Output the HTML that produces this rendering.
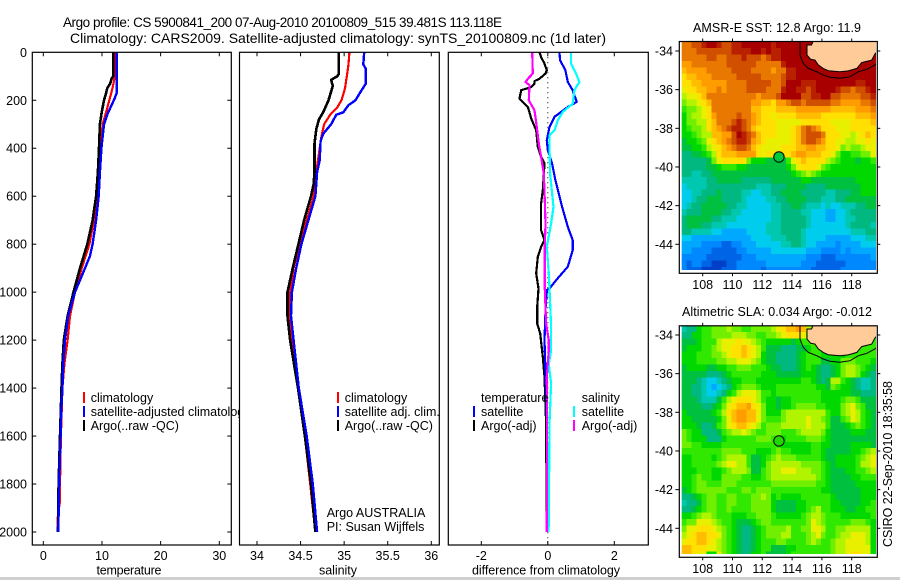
<!DOCTYPE html>
<html>
<head>
<meta charset="utf-8">
<title>Argo profile</title>
<style>
html,body{margin:0;padding:0;background:#fff;width:900px;height:580px;overflow:hidden}
svg{display:block;font-family:"Liberation Sans",sans-serif;font-size:12.5px;fill:#000}
</style>
</head>
<body>
<svg id="chart" xmlns="http://www.w3.org/2000/svg" width="900" height="580" viewBox="0 0 900 580">
<rect x="0" y="577" width="900" height="3" fill="#cfcfcf"/>
<text x="63" y="27" font-size="13.5" textLength="439" lengthAdjust="spacing">Argo profile: CS 5900841_200 07-Aug-2010 20100809_515 39.481S 113.118E</text>
<text x="70" y="43" font-size="14" textLength="536" lengthAdjust="spacing">Climatology: CARS2009. Satellite-adjusted climatology: synTS_20100809.nc (1d later)</text>
<g id="layer"></g>
<text x="693" y="32" textLength="168" lengthAdjust="spacing">AMSR-E SST: 12.8 Argo: 11.9</text>
<text x="682" y="316" textLength="190" lengthAdjust="spacing">Altimetric SLA: 0.034 Argo: -0.012</text>
<text transform="translate(892,547) rotate(-90)" textLength="166" lengthAdjust="spacing">CSIRO 22-Sep-2010 18:35:58</text>
</svg>
<script>
// ---- tick labels ----
const depthTicks = [0,200,400,600,800,1000,1200,1400,1600,1800,2000];
const tempTicks = [0,10,20,30];
const salTicks = [34,34.5,35,35.5,36];
const diffTicks = [-2,0,2];
const lonTicks = [108,110,112,114,116,118];
const latTicks = [-34,-36,-38,-40,-42,-44];

// ---- temperature panel ----
const tempBlackDepth = [0,100,110,130,150,170,200,250,300,400,500,600,700,800,900,1000,1100,1200,1300,1400,1600,1800,2000];
const tempBlack = [11.9,11.9,11.65,11.4,10.9,10.7,10.35,9.95,9.65,9.5,9.3,9.0,8.4,7.5,6.25,5.15,4.15,3.5,3.25,3.1,2.85,2.6,2.5];
const tempRedDepth = [0,100,150,200,250,300,400,500,600,700,800,900,1000,1100,1200,1300,1400,1600,1800,1870,1950,2000];
const tempRed = [12.2,12.2,11.8,11.25,10.7,10.1,9.8,9.5,9.2,8.65,7.85,6.55,5.4,4.55,4.15,3.6,3.25,3.0,2.85,2.85,2.4,2.4];
const tempBlueDepth = [0,100,170,190,220,260,300,400,500,600,700,800,850,900,950,1000,1100,1200,1300,1400,1500,1600,1800,2000];
const tempBlue = [12.5,12.5,12.5,12.2,11.65,10.9,10.35,9.9,9.65,9.45,9.0,8.4,7.95,7.1,6.25,5.4,4.25,3.7,3.4,3.25,3.05,2.95,2.7,2.55];

// ---- salinity panel ----
const salBlackDepth = [0,50,90,100,115,140,200,250,280,320,380,420,500,550,600,700,800,900,1000,1100,1200,1400,1600,1800,2000];
const salBlack = [34.94,34.94,34.94,34.92,34.85,34.87,34.82,34.76,34.71,34.68,34.66,34.66,34.66,34.65,34.62,34.54,34.475,34.41,34.35,34.35,34.38,34.47,34.55,34.62,34.67];
const salRedDepth = [0,50,100,150,200,230,260,300,350,400,500,600,700,800,900,1000,1100,1200,1400,1600,1800,2000];
const salRed = [35.06,35.05,35.03,35.01,34.97,34.92,34.84,34.77,34.74,34.72,34.68,34.65,34.57,34.49,34.42,34.38,34.37,34.4,34.47,34.55,34.61,34.67];
const salBlueDepth = [0,50,70,130,170,200,220,250,260,300,340,370,450,500,600,700,800,900,1000,1100,1200,1400,1600,1800,2000];
const salBlue = [35.23,35.22,35.25,35.25,35.18,35.13,35.05,34.99,34.91,34.85,34.76,34.73,34.72,34.69,34.67,34.59,34.51,34.45,34.4,34.39,34.42,34.48,34.57,34.64,34.69];

// ---- difference panel ----
const diffBlackDepth = [0,20,47,75,89,110,120,130,145,158,193,228,276,325,394,436,464,575,630,742,783,811,853,922,985,1061,1131,1172,1269,1353,1547,2000];
const diffBlack = [-0.25,-0.2,-0.1,-0.03,-0.07,-0.25,-0.4,-0.4,-0.5,-0.8,-0.85,-0.6,-0.5,-0.35,-0.3,-0.2,-0.1,-0.15,-0.2,-0.2,-0.1,-0.2,-0.3,-0.35,-0.28,-0.32,-0.32,-0.23,-0.15,-0.1,-0.05,-0.03];
const diffBlueDepth = [0,33,75,124,158,207,228,269,311,367,408,464,533,644,728,783,825,894,950,985,992,1075,1200,1339,1547,2000];
const diffBlue = [0.35,0.37,0.53,0.6,0.75,0.87,0.6,0.2,0.05,-0.03,0,0.13,0.23,0.43,0.6,0.75,0.75,0.6,0.25,0.05,-0.03,-0.07,-0.1,-0.07,-0.02,-0.03];
const diffCyanDepth = [0,47,89,124,158,214,249,283,325,346,394,506,644,714,811,922,985,1144,1242,1300,1381,1547,1960,2000];
const diffCyan = [0.7,0.7,0.85,0.95,0.8,0.75,0.45,0.3,0.2,0.05,0.05,0.07,0.17,0.1,-0.03,0.03,0.05,0.1,0.1,0.03,0.1,0.05,0.03,0.02];
const diffMagentaDepth = [0,89,110,124,137,200,242,311,380,436,506,617,714,811,985,1131,1200,1242,1353,1547,2000];
const diffMagenta = [-0.47,-0.45,-0.6,-0.67,-0.55,-0.57,-0.4,-0.33,-0.27,-0.2,-0.12,-0.09,-0.07,-0.09,-0.09,-0.05,0.03,0.03,-0.03,-0.02,-0.03];

// ---- map colour classes: 0 = deep blue ... 19 = dark red ----
const mapColors = ['#0040c8','#0064e6','#0088ff','#00a8ff','#00ccee','#00c8b0','#00b880','#00c040','#00d800','#30e800','#70f000','#b0f400','#e8f000','#ffe000','#ffbc00','#ff9c00','#e87800','#d05000','#b82000','#a80000'];

const sstLevels = [
[16,16,17,17,18,19,19,18,17,17,18,18,19,19,19,19,19,19,18,19,19,19,19,19,19,19,19,19,19,19,19,19,19,19,19,19,19,19,19],
[16,16,16,17,17,17,17,17,17,17,18,18,18,18,19,19,18,19,18,18,19,19,19,19,19,19,19,19,19,19,19,19,19,19,19,19,19,19,19],
[16,16,16,16,16,17,17,16,16,17,17,17,18,17,17,17,16,17,18,18,19,19,19,19,19,19,19,19,19,19,19,19,19,19,19,19,19,19,19],
[15,15,16,16,16,16,16,16,16,17,17,17,17,17,17,16,16,16,16,16,18,19,19,19,19,19,19,19,19,19,19,19,19,19,19,19,19,19,19],
[14,15,15,15,15,16,16,16,16,16,17,17,17,17,16,16,16,16,15,16,16,18,18,19,19,19,19,19,19,19,19,19,19,19,19,19,19,19,19],
[13,14,14,15,15,15,16,16,16,16,16,17,17,17,17,17,16,16,16,16,17,18,18,19,19,19,19,19,19,19,19,19,19,19,19,19,19,19,19],
[13,13,14,14,15,15,15,15,15,16,16,16,16,17,17,17,17,17,16,16,17,19,19,19,18,18,18,19,19,19,19,19,19,19,19,18,18,19,19],
[12,13,13,14,14,15,15,16,15,16,16,16,16,17,17,17,17,16,16,16,18,19,19,18,18,17,18,19,19,19,19,18,17,17,16,17,17,18,19],
[11,12,12,13,14,16,16,16,16,16,16,16,16,16,16,15,16,16,16,17,19,19,19,19,17,17,18,18,19,19,17,17,16,16,16,16,17,17,18],
[10,11,11,12,13,14,16,16,16,16,16,16,16,16,15,15,14,14,13,15,15,16,17,17,16,17,17,17,17,17,16,16,15,15,15,15,16,16,17],
[9,10,10,11,12,13,16,16,16,16,16,16,16,16,14,14,13,13,13,14,14,14,14,15,15,15,15,15,15,15,14,14,14,14,14,15,15,15,16],
[8,10,11,11,12,13,15,16,16,16,16,17,16,16,15,14,13,13,12,13,13,13,13,14,14,14,14,14,13,13,13,13,13,13,13,14,14,14,15],
[8,10,10,11,11,13,14,16,16,16,17,18,17,16,15,14,13,13,13,12,12,12,12,12,13,13,13,13,13,13,12,12,12,12,13,13,13,13,14],
[8,9,10,10,11,13,14,15,16,17,18,18,17,16,14,13,13,13,13,12,12,12,13,14,16,17,16,15,13,13,13,12,12,12,13,13,13,13,13],
[8,8,9,10,11,11,14,14,15,15,17,19,18,17,16,14,13,13,13,12,12,12,13,14,16,17,17,17,16,13,13,13,12,12,11,12,13,14,13],
[7,8,8,9,10,12,13,14,15,16,17,18,18,17,15,14,13,12,12,12,12,12,13,14,16,17,17,16,15,13,13,12,12,11,11,12,12,13,12],
[7,7,8,8,9,11,12,13,14,15,16,17,17,16,14,13,12,12,12,12,13,13,13,14,14,15,15,14,14,13,13,12,10,11,10,10,11,12,12],
[6,6,7,7,8,9,11,13,14,14,14,15,15,15,15,13,12,13,13,13,13,13,14,15,15,14,14,14,13,13,12,10,8,8,9,9,10,10,12],
[6,6,6,6,6,7,10,12,13,13,13,13,13,10,8,8,8,7,7,7,7,9,12,13,14,13,13,13,13,11,10,9,8,8,8,7,8,8,9],
[6,6,6,6,6,7,7,8,9,9,9,8,8,7,7,7,7,7,7,7,7,8,10,12,13,13,13,12,10,9,8,8,8,8,8,8,8,8,8],
[6,6,5,5,6,6,7,7,7,7,7,7,7,7,7,7,7,7,7,7,7,7,8,9,10,11,10,9,8,8,8,8,8,8,8,8,8,8,8],
[5,5,5,5,5,6,6,7,7,7,7,7,6,6,6,6,6,6,7,7,7,7,7,7,8,8,7,7,7,7,7,7,7,7,7,8,8,8,8],
[4,5,5,5,5,6,6,6,6,6,6,6,6,6,6,5,5,5,6,6,6,7,7,7,7,6,6,6,6,7,7,7,7,7,7,7,8,8,8],
[4,4,5,5,6,6,6,7,6,6,6,6,5,5,4,4,5,5,6,6,7,7,7,7,6,6,6,6,6,5,5,6,6,6,7,7,8,8,8],
[4,4,5,6,6,7,7,7,6,6,6,6,5,4,4,4,4,5,5,6,6,7,7,7,7,6,6,6,5,5,5,6,6,7,7,7,7,7,7],
[4,5,6,6,7,7,7,7,7,6,6,5,5,4,4,4,4,4,5,5,6,6,7,7,6,5,5,5,4,5,4,4,5,5,5,6,6,7,7],
[5,6,6,6,7,7,7,7,6,6,5,5,4,4,4,4,4,4,5,5,6,6,6,6,5,5,4,4,4,3,3,4,4,5,6,6,6,6,6],
[6,7,7,7,7,7,6,6,5,5,5,4,4,4,4,4,4,4,5,5,6,6,6,6,6,5,4,4,4,3,3,4,4,5,5,6,6,6,6],
[6,7,7,7,6,6,5,5,5,4,4,4,4,4,4,4,4,5,5,5,6,6,6,6,6,5,4,4,4,4,4,4,4,5,6,6,6,6,5],
[6,6,5,5,5,5,4,4,3,3,3,3,3,4,4,4,4,5,5,5,6,6,6,6,5,4,4,4,4,4,4,4,4,4,5,5,5,6,6],
[4,4,3,3,3,3,3,3,3,3,3,3,3,3,4,4,4,4,5,5,5,6,6,6,5,4,4,4,4,3,3,3,3,3,4,4,4,5,5],
[3,3,3,3,2,2,2,2,1,1,2,2,3,3,3,4,4,4,4,4,5,5,6,6,5,4,4,3,3,3,3,2,3,3,3,3,4,4,4],
[3,3,2,2,2,2,1,1,1,1,1,2,2,3,3,3,3,3,4,4,4,4,4,4,4,3,3,3,2,2,2,2,3,2,3,3,3,3,3],
[2,2,2,2,2,1,1,1,1,1,1,1,2,2,2,3,3,3,3,3,3,3,3,3,3,2,2,2,1,1,1,2,2,2,2,2,2,2,3],
[2,1,2,2,1,1,0,0,0,1,1,2,2,2,2,2,2,3,3,3,3,3,3,3,2,2,2,1,1,1,1,1,1,2,2,2,2,2,2],
[2,1,1,1,0,0,0,0,1,1,1,2,2,2,2,2,1,2,2,2,2,2,2,2,2,2,1,1,1,1,1,1,2,2,2,2,2,2,2]
];

const slaLevels = [
[5,6,6,8,9,9,10,10,10,11,10,10,9,9,10,10,10,10,11,12,13,14,14,15,14,11,10,9,9,9,9,9,9,9,9,9,9,9,9],
[6,6,8,8,9,9,10,10,10,10,11,11,11,10,10,9,9,10,10,11,12,13,13,13,12,10,9,9,9,9,9,9,9,9,9,9,9,9,9],
[7,7,7,8,9,9,9,11,12,12,12,13,12,12,11,10,9,8,8,8,8,8,7,8,9,9,10,10,9,9,9,9,9,9,9,9,9,9,9],
[7,8,8,8,9,9,10,11,12,12,13,13,14,13,12,11,9,7,7,7,6,6,6,7,7,8,9,9,9,9,8,8,8,8,9,9,9,9,9],
[8,8,8,9,9,9,10,10,11,12,13,13,14,13,12,11,8,7,7,6,6,6,6,7,8,9,9,9,8,8,8,8,8,9,9,9,9,9,9],
[8,8,8,9,9,9,9,10,10,11,11,12,12,12,11,10,8,7,7,6,6,6,6,7,8,9,9,9,7,7,8,8,10,10,10,9,9,9,8],
[7,8,8,8,8,7,7,8,8,9,9,10,10,10,9,9,9,8,7,7,6,6,6,7,8,9,8,7,6,6,7,8,10,11,11,10,9,8,7],
[7,7,7,7,7,6,6,6,7,8,9,9,9,9,9,9,8,8,8,7,7,7,7,7,8,8,8,7,6,6,7,8,10,11,11,10,8,7,6],
[7,7,7,6,5,4,4,5,6,7,8,8,9,9,9,8,8,8,8,8,8,8,8,8,9,9,8,7,6,7,11,11,9,8,7,6,5,5,6],
[7,7,6,6,5,4,3,4,5,6,8,9,10,10,10,9,8,8,8,9,9,9,9,9,9,9,9,8,8,7,10,9,8,8,7,6,5,5,6],
[7,7,6,6,5,4,4,5,6,8,9,11,12,12,12,11,9,9,8,9,9,9,9,9,9,9,9,9,8,8,8,8,8,8,7,7,6,6,6],
[7,7,7,6,5,5,5,7,9,11,12,13,13,13,12,11,9,8,8,7,8,8,9,9,9,9,9,9,8,8,8,8,9,10,10,9,7,7,7],
[7,7,7,7,6,6,7,8,10,12,13,14,14,15,13,12,10,8,8,7,8,8,9,10,10,10,10,9,9,8,8,8,10,11,12,10,9,7,7],
[8,7,7,7,7,7,8,9,11,13,14,15,15,14,14,12,10,8,8,8,10,11,11,11,11,11,11,11,11,9,8,8,10,11,12,11,9,8,7],
[8,8,7,7,7,7,7,8,10,12,14,15,15,14,14,12,10,9,9,9,10,11,11,11,11,12,11,11,10,9,7,7,9,10,12,11,9,8,7],
[8,8,8,7,6,6,7,9,10,12,13,14,14,13,12,11,9,10,10,10,11,11,11,11,11,12,11,11,11,9,7,7,7,8,9,10,9,8,7],
[10,9,8,8,6,6,6,7,9,10,11,11,12,11,10,9,9,10,10,10,9,9,9,10,11,11,11,11,10,8,7,7,7,7,8,8,8,7,7],
[10,9,8,8,8,6,6,6,8,9,9,9,9,9,9,10,10,10,9,9,8,9,9,9,9,10,10,10,9,8,7,7,7,7,7,7,7,7,7],
[10,10,9,9,8,8,8,8,9,9,9,9,9,9,9,9,9,9,9,9,8,8,8,8,8,8,9,9,8,8,7,7,7,7,8,8,8,8,7],
[9,9,9,9,9,9,9,9,10,10,10,10,9,9,9,8,8,8,9,10,9,9,8,8,8,8,9,9,8,7,7,7,7,7,8,8,9,10,11],
[8,8,9,9,9,9,8,9,10,11,11,11,11,9,7,7,8,9,10,11,10,10,10,9,9,9,9,9,8,7,7,8,8,8,8,9,10,11,12],
[8,8,9,9,9,9,9,10,11,12,12,11,11,9,7,7,8,10,11,11,11,11,11,11,10,10,10,10,9,8,7,8,8,8,8,9,11,11,12],
[8,8,8,9,9,9,8,8,9,10,11,11,11,10,7,7,9,10,11,11,12,12,12,11,11,11,10,10,9,8,7,7,7,8,8,9,9,10,11],
[8,8,9,10,9,9,8,8,10,10,10,10,9,9,8,8,9,10,11,11,11,11,11,11,11,11,11,10,9,8,7,7,7,7,8,8,9,9,9],
[8,8,9,10,10,9,9,9,10,10,10,9,9,9,9,9,9,9,10,10,10,10,10,10,10,10,10,9,9,8,7,7,7,7,7,8,8,8,8],
[7,8,9,10,10,10,10,10,10,9,9,9,10,10,9,10,10,10,9,9,9,9,9,9,9,9,9,9,8,8,7,7,7,7,7,7,8,8,8],
[6,6,7,8,9,10,10,9,9,10,10,9,9,9,10,10,11,10,8,9,8,8,8,8,9,9,9,9,9,9,8,7,7,7,7,7,8,8,8],
[5,6,6,7,9,10,10,9,9,10,10,9,9,9,10,10,10,10,8,7,7,7,7,8,8,9,9,9,9,9,8,8,7,7,7,7,8,8,9],
[6,6,7,8,9,10,10,9,9,10,9,9,9,9,10,10,10,10,8,7,7,7,7,8,8,9,10,11,9,9,8,8,8,7,7,8,8,9,9],
[8,8,9,10,11,11,10,9,9,9,8,8,8,9,9,10,10,10,9,8,8,8,8,8,9,10,11,11,10,9,9,9,8,8,8,8,8,8,9],
[9,10,10,12,12,12,11,10,9,9,8,7,7,7,8,9,10,10,9,9,9,9,9,9,9,10,12,11,10,9,9,9,9,9,10,10,10,9,8],
[10,12,12,13,13,13,12,11,10,9,8,7,6,6,7,8,9,10,10,10,10,11,9,9,10,10,12,12,11,9,9,10,10,11,11,11,11,11,8],
[11,12,13,14,14,13,13,12,10,9,8,7,6,6,7,8,9,10,10,10,11,11,9,9,9,10,11,12,10,9,9,10,11,11,12,12,12,11,8],
[12,13,13,14,14,13,12,11,10,9,8,7,6,6,7,8,9,9,9,10,10,9,9,9,9,10,11,10,9,9,10,11,11,12,12,12,12,11,8],
[14,14,13,13,13,12,12,11,10,9,8,7,6,6,7,8,9,9,7,7,7,8,8,9,9,9,9,9,9,9,10,11,11,12,12,12,12,12,8],
[14,14,13,12,12,8,8,12,10,9,8,7,6,6,8,8,9,7,7,7,7,8,9,9,9,9,9,9,9,9,10,11,11,12,13,13,12,12,8]
];

// ---- Australian coast and shelf contour (lon / lat) ----
const landLon = [115.44,115.3,115.0,115.0,115.25,115.54,115.76,116.09,116.43,117.21,117.77,118.34,118.67,119.34,119.56,119.7,119.7];
const landLat = [-33.45,-33.69,-33.69,-34.21,-34.43,-34.47,-34.72,-34.9,-35.02,-35.07,-35.03,-34.9,-34.6,-34.47,-34.16,-34.04,-33.45];
const shelfLon = [114.53,114.53,114.75,115.09,115.65,116.09,116.54,117.21,117.89,118.45,119.0,119.56,119.7];
const shelfLat = [-33.45,-34.21,-34.64,-34.9,-35.07,-35.24,-35.36,-35.41,-35.33,-35.07,-34.95,-34.72,-34.64];
const argoLon = [113.118];
const argoLat = [-39.481];

const NS = 'http://www.w3.org/2000/svg';
const layer = document.getElementById('layer');
function mk(tag, attrs, parent) {
  const el = document.createElementNS(NS, tag);
  for (const k in attrs) el.setAttribute(k, attrs[k]);
  (parent || layer).appendChild(el);
  return el;
}
function linear(d0, d1, r0, r1) { return v => r0 + (v - d0) * (r1 - r0) / (d1 - d0); }
const depthY = linear(0, 2000, 52.3, 532);

const panels = [
  {key:'temperature', left:32.3, right:231.3, x:linear(0,30,43.3,219.3), ticks:tempTicks, label:'temperature', labelX:129, labelW:65},
  {key:'salinity', left:239.5, right:439.3, x:linear(34,36,257,431.3), ticks:salTicks, label:'salinity', labelX:338, labelW:38},
  {key:'difference', left:448.3, right:648.3, x:linear(-2,2,481.3,614.3), ticks:diffTicks, label:'difference from climatology', labelX:546, labelW:148}
];
const TOP = 52.3, BOTTOM = 545;

function drawPanelBase(p) {
  const bg = mk('rect', {x:p.left, y:TOP, width:p.right-p.left, height:BOTTOM-TOP, fill:'#fff'});
  
  
  p.ticks.forEach(t => {
    const x = p.x(t);
    const t1 = mk('line', {x1:x, x2:x, y1:TOP, y2:TOP+4, stroke:'#000', 'stroke-width':1});
    
    
    const t2 = mk('line', {x1:x, x2:x, y1:BOTTOM, y2:BOTTOM-4, stroke:'#000', 'stroke-width':1});
    
    
    const lab = mk('text', {x:x, y:560, 'text-anchor':'middle'});
    lab.textContent = String(t);
    
    
  });
  const al = mk('text', {x:p.labelX, y:574.5, 'text-anchor':'middle', textLength:p.labelW, lengthAdjust:'spacing'});
  al.textContent = p.label;
  
  
}
function drawFrame(p) {
  const fr = mk('rect', {x:p.left, y:TOP, width:p.right-p.left, height:BOTTOM-TOP, fill:'none', stroke:'#000', 'stroke-width':1.2});
  
  
}
function drawSeries(p, depths, values, color, width, name) {
  const pts = values.map((v, i) => p.x(v).toFixed(1) + ',' + depthY(depths[i]).toFixed(1)).join(' ');
  const l = mk('polyline', {points:pts, fill:'none', stroke:color, 'stroke-width':width, 'stroke-linejoin':'round', 'shape-rendering':'crispEdges'});
  
  
}
function legendEntry(swX, textX, baseY, color, label, name) {
  if (color) {
    const s = mk('rect', {x:swX-1, y:baseY-10, width:2, height:11, fill:color});
    
    
  }
  const t = mk('text', {x:textX, y:baseY});
  t.textContent = label;
  
  
}

const [pT, pS, pD] = panels;

// temperature panel: legend text overruns and is clipped by the next panel
drawPanelBase(pT);
depthTicks.forEach(d => {
  const y = depthY(d);
  const lab = mk('text', {x:27, y:y+4.5, 'text-anchor':'end'});
  lab.textContent = String(d);
  
  
  if (d > 0) {
    const a = mk('line', {x1:pT.left, x2:pT.left+4, y1:y, y2:y, stroke:'#000', 'stroke-width':1});
    
    
    const b = mk('line', {x1:pT.right, x2:pT.right-4, y1:y, y2:y, stroke:'#000', 'stroke-width':1});
    
    
  }
});
drawSeries(pT, tempRedDepth, tempRed, '#ff0000', 2.2, 'temperature-climatology-line');
drawSeries(pT, tempBlackDepth, tempBlack, '#000', 2.6, 'temperature-argo-line');
drawSeries(pT, tempBlueDepth, tempBlue, '#0000ff', 2.4, 'temperature-satellite-line');
legendEntry(84, 90.7, 402, '#ff0000', 'climatology', 'temperature-legend-climatology');
legendEntry(84, 90.7, 416, '#0000ff', 'satellite-adjusted climatology', 'temperature-legend-satellite');
legendEntry(84, 90.7, 430, '#000', 'Argo(..raw -QC)', 'temperature-legend-argo');
drawFrame(pT);

// salinity panel
drawPanelBase(pS);
drawSeries(pS, salRedDepth, salRed, '#ff0000', 2.2, 'salinity-climatology-line');
drawSeries(pS, salBlackDepth, salBlack, '#000', 2.6, 'salinity-argo-line');
drawSeries(pS, salBlueDepth, salBlue, '#0000ff', 2.4, 'salinity-satellite-line');
legendEntry(338, 344.7, 402, '#ff0000', 'climatology', 'salinity-legend-climatology');
legendEntry(338, 344.7, 416, '#0000ff', 'satellite adj. clim.', 'salinity-legend-satellite');
legendEntry(338, 344.7, 430, '#000', 'Argo(..raw -QC)', 'salinity-legend-argo');
legendEntry(0, 326.7, 517, null, 'Argo AUSTRALIA', 'float-country-note');
legendEntry(0, 326.7, 531, null, 'PI: Susan Wijffels', 'float-pi-note');
drawFrame(pS);

// difference panel
drawPanelBase(pD);
const zero = mk('line', {x1:pD.x(0), x2:pD.x(0), y1:TOP, y2:BOTTOM, stroke:'#000', 'stroke-width':1, 'stroke-dasharray':'1 4'});


drawSeries(pD, diffBlackDepth, diffBlack, '#000', 2.2, 'temperature-argo-difference-line');
drawSeries(pD, diffBlueDepth, diffBlue, '#0000ff', 2.2, 'temperature-satellite-difference-line');
drawSeries(pD, diffCyanDepth, diffCyan, '#00ffff', 2.2, 'salinity-satellite-difference-line');
drawSeries(pD, diffMagentaDepth, diffMagenta, '#ff00ff', 2.2, 'salinity-argo-difference-line');
legendEntry(0, 481, 402, null, 'temperature', 'difference-legend-temperature-heading');
legendEntry(474, 481, 416, '#0000ff', 'satellite', 'difference-legend-temperature-satellite');
legendEntry(474, 481, 430, '#000', 'Argo(-adj)', 'difference-legend-temperature-argo');
legendEntry(0, 581.7, 402, null, 'salinity', 'difference-legend-salinity-heading');
legendEntry(574, 581.7, 416, '#00ffff', 'satellite', 'difference-legend-salinity-satellite');
legendEntry(574, 581.7, 430, '#ff00ff', 'Argo(-adj)', 'difference-legend-salinity-argo');
drawFrame(pD);

// maps
const lonX = linear(108, 118, 702.7, 851.7);
function drawMap(key, levels, lat34Y, frameTop, frameBottom, imgBottom, markerFill) {
  const latY = lat => lat34Y + (-34 - lat) * 19.33;
  const frameL = 679.3, frameR = 877.3, imgL = 681.7, imgR = 876;
  const clip = mk('clipPath', {id:key + '-clip'});
  mk('rect', {x:imgL, y:frameTop, width:imgR-imgL, height:imgBottom-frameTop}, clip);
  const g = mk('g', {'clip-path':'url(#' + key + '-clip)'});
  
  
  const lon0 = 106.59, lat0 = -34 + (lat34Y - frameTop) / 19.33;
  const cw = 14.9 / 3, ch = 19.33 / 3;
  levels.forEach((row, r) => {
    row.forEach((v, c) => {
      const x = lonX(lon0 + c / 3), y = latY(lat0 - r / 3);
      const cell = mk('rect', {x:x.toFixed(2), y:y.toFixed(2), width:(cw+0.4).toFixed(2), height:(ch+0.4).toFixed(2), fill:mapColors[v], 'shape-rendering':'crispEdges'}, g);
      
      
    });
  });
  const landPts = landLon.map((lo, i) => lonX(lo).toFixed(1) + ',' + latY(landLat[i]).toFixed(1)).join(' ');
  const land = mk('polygon', {points:landPts, fill:'#ffcc99', stroke:'none'}, g);
  
  
  const coastPts = landLon.slice(0, 16).map((lo, i) => lonX(lo).toFixed(1) + ',' + latY(landLat[i]).toFixed(1)).join(' ');
  const coast = mk('polyline', {points:coastPts, fill:'none', stroke:'#000', 'stroke-width':1}, g);
  
  
  const shelfPts = shelfLon.map((lo, i) => lonX(lo).toFixed(1) + ',' + latY(shelfLat[i]).toFixed(1)).join(' ');
  const shelf = mk('polyline', {points:shelfPts, fill:'none', stroke:'#000', 'stroke-width':1}, g);
  
  
  const mark = mk('circle', {cx:lonX(argoLon[0]), cy:latY(argoLat[0]), r:5.2, fill:markerFill, stroke:'#000', 'stroke-width':1});
  
  
  const frame = mk('rect', {x:frameL, y:frameTop, width:frameR-frameL, height:frameBottom-frameTop, fill:'none', stroke:'#000', 'stroke-width':1.2});
  
  
  lonTicks.forEach(t => {
    const x = lonX(t);
    const a = mk('line', {x1:x, x2:x, y1:frameTop-3, y2:frameTop, stroke:'#000', 'stroke-width':1});
    
    
    const b = mk('line', {x1:x, x2:x, y1:frameBottom, y2:frameBottom+3, stroke:'#000', 'stroke-width':1});
    
    
    const lab = mk('text', {x:x, y:frameBottom+15.5, 'text-anchor':'middle'});
    lab.textContent = String(t);
    
    
  });
  latTicks.forEach(t => {
    const y = latY(t);
    const a = mk('line', {x1:frameL-4, x2:frameL, y1:y, y2:y, stroke:'#000', 'stroke-width':1});
    
    
    const b = mk('line', {x1:frameR, x2:frameR+3, y1:y, y2:y, stroke:'#000', 'stroke-width':1});
    
    
    const lab = mk('text', {x:673, y:y+4.5, 'text-anchor':'end'});
    lab.textContent = String(t);
    
    
  });
}
drawMap('sst', sstLevels, 51, 41.5, 273.3, 270, '#00c83c');
drawMap('sla', slaLevels, 335, 325.8, 557.3, 554, '#20d800');
</script>
</body>
</html>
